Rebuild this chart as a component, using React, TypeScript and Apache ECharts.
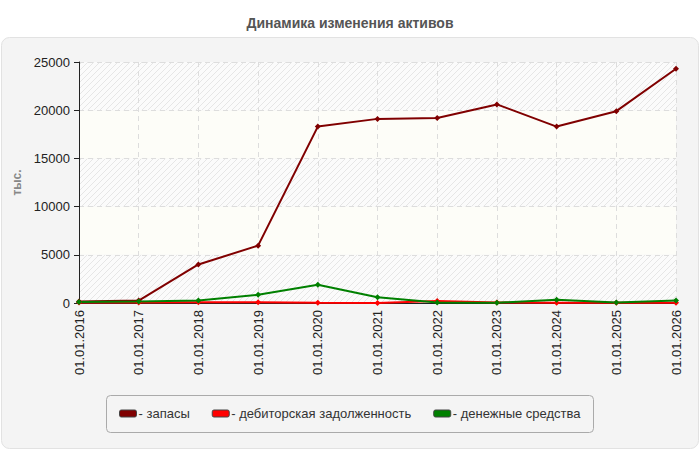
import * as echarts from 'echarts';
import { useEffect, useRef } from 'react';

const categories = [
  '01.01.2016', '01.01.2017', '01.01.2018', '01.01.2019', '01.01.2020', '01.01.2021',
  '01.01.2022', '01.01.2023', '01.01.2024', '01.01.2025', '01.01.2026',
];

// тыс.
const zapasy = [150, 250, 4000, 5950, 18300, 19100, 19200, 20600, 18300, 19900, 24300];
const debitorka = [50, 50, 80, 80, 20, 0, 200, 50, 30, 20, 20];
const dengi = [100, 150, 250, 850, 1900, 600, 50, 30, 340, 50, 250];

const yTicks = [0, 5000, 10000, 15000, 20000, 25000];

// штриховка для полос фона
const makeHatch = () => {
  const c = document.createElement('canvas');
  c.width = 6;
  c.height = 6;
  const ctx = c.getContext('2d');
  if (ctx) {
    ctx.fillStyle = '#fbfbfb';
    ctx.fillRect(0, 0, 6, 6);
    ctx.strokeStyle = '#e6e6e6';
    ctx.lineWidth = 1;
    ctx.beginPath();
    ctx.moveTo(0, 6);
    ctx.lineTo(6, 0);
    ctx.moveTo(-3, 3);
    ctx.lineTo(3, -3);
    ctx.moveTo(3, 9);
    ctx.lineTo(9, 3);
    ctx.stroke();
  }
  return c;
};

const App = () => {
  const chartRef = useRef<HTMLDivElement>(null);

  useEffect(() => {
    if (!chartRef.current) return;
    const chart = echarts.init(chartRef.current, null, { renderer: 'svg' });
    const hatch = makeHatch();
    const font = 'Arial, "Liberation Sans", sans-serif';

    chart.setOption({
      animation: false,
      backgroundColor: '#ffffff',
      textStyle: { fontFamily: font },
      title: {
        text: 'Динамика изменения активов',
        left: 'center',
        top: 11,
        textStyle: { fontSize: 14, fontWeight: 'bold', color: '#555555', fontFamily: font },
      },
      graphic: [
        {
          type: 'rect',
          z: -10,
          shape: { x: 1.5, y: 37.5, width: 697, height: 411, r: 8 },
          style: { fill: '#f4f4f4', stroke: '#e2e2e2', lineWidth: 1 },
        },
        {
          type: 'rect',
          z: -5,
          shape: { x: 106.5, y: 395.5, width: 487, height: 37, r: 4 },
          style: { fill: '#f4f4f4', stroke: '#aaaaaa', lineWidth: 1 },
        },
      ],
      grid: { left: 79, right: 24, top: 62, bottom: 147 },
      legend: {
        left: 114,
        top: 402,
        itemGap: 22,
        icon: 'roundRect',
        itemWidth: 17,
        itemHeight: 7,
        formatter: '- {name}',
        itemStyle: { borderColor: '#444444', borderWidth: 1 },
        textStyle: { fontSize: 13, color: '#333333', fontFamily: font, padding: [0, 0, 0, -3] },
        data: ['запасы', 'дебиторская задолженность', 'денежные средства'],
      },
      xAxis: {
        type: 'category',
        boundaryGap: false,
        data: categories,
        axisLine: { lineStyle: { color: '#222222' } },
        axisTick: { show: false },
        axisLabel: { rotate: 90, fontSize: 13, color: '#222222', margin: 7, interval: 0 },
        splitLine: { show: true, lineStyle: { color: '#dddddd', type: [5, 4] } },
      },
      yAxis: {
        type: 'value',
        min: yTicks[0],
        max: yTicks[yTicks.length - 1],
        interval: 5000,
        name: 'тыс.',
        nameLocation: 'middle',
        nameGap: 56,
        nameTextStyle: { fontSize: 12, fontWeight: 'bold', color: '#888888' },
        axisLine: { show: true, lineStyle: { color: '#222222' } },
        axisTick: { show: true, length: 5, lineStyle: { color: '#222222' } },
        axisLabel: {
          fontSize: 13,
          color: '#222222',
          margin: 9,
          formatter: (v: number) => String(v),
        },
        splitLine: { show: true, lineStyle: { color: '#dddddd', type: [5, 4] } },
        splitArea: {
          show: true,
          areaStyle: { color: [{ image: hatch, repeat: 'repeat' }, '#fdfdf8'] },
        },
      },
      series: [
        {
          name: 'запасы',
          type: 'line',
          data: zapasy,
          color: '#800000',
          symbol: 'diamond',
          symbolSize: 6,
          lineStyle: { width: 2 },
        },
        {
          name: 'дебиторская задолженность',
          type: 'line',
          data: debitorka,
          color: '#ff0000',
          symbol: 'diamond',
          symbolSize: 6,
          lineStyle: { width: 2 },
        },
        {
          name: 'денежные средства',
          type: 'line',
          data: dengi,
          color: '#008000',
          symbol: 'diamond',
          symbolSize: 6,
          lineStyle: { width: 2 },
        },
      ],
    });

    return () => {
      chart.dispose();
    };
  }, []);

  return (
    <div
      ref={chartRef}
      style={{ position: 'fixed', left: 0, top: 0, width: 700, height: 450 }}
    ></div>
  );
};

export default App;
